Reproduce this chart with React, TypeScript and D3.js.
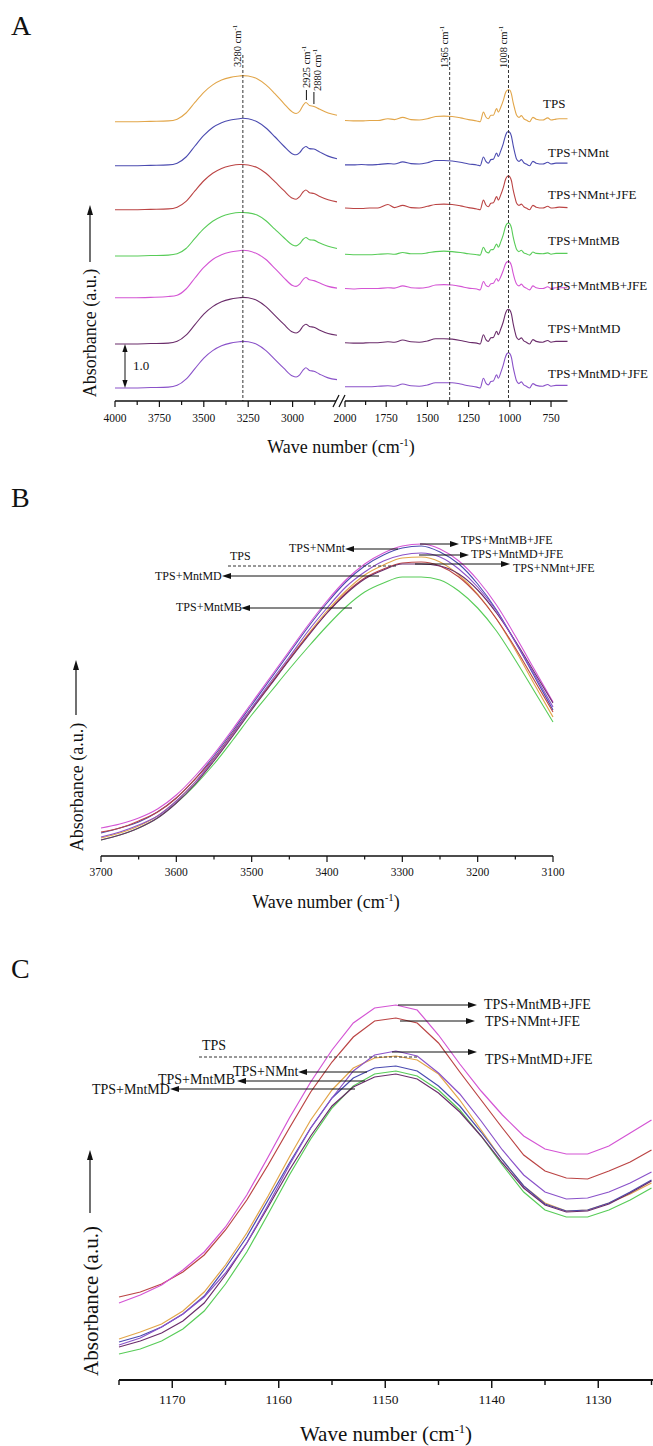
import React from "react";
import * as d3 from "d3";

// ---------- shared ----------
const SERIES = ["TPS", "TPS+NMnt", "TPS+NMnt+JFE", "TPS+MntMB", "TPS+MntMB+JFE", "TPS+MntMD", "TPS+MntMD+JFE"];
const COLORS = ["#e2a64a", "#4b4bb0", "#bb4444", "#58cc58", "#d455d4", "#6b2d6b", "#8a52c9"];

// ---------- Panel A data (absorbance, before stacking) ----------
const A_LEFT_WN = [4000, 3900, 3800, 3700, 3650, 3600, 3550, 3500, 3450, 3400, 3350, 3300, 3280, 3250, 3200, 3150, 3100, 3050, 3000, 2980, 2960, 2940, 2925, 2905, 2880, 2850, 2800, 2750];
const aL_TPS = [0, 0, 0.01, 0.02, 0.06, 0.2, 0.44, 0.67, 0.84, 0.95, 1.01, 1.04, 1.05, 1.04, 0.98, 0.84, 0.64, 0.42, 0.22, 0.19, 0.24, 0.38, 0.44, 0.37, 0.35, 0.29, 0.2, 0.15];
const aL_NMnt = [0, 0, 0.01, 0.02, 0.06, 0.2, 0.45, 0.69, 0.87, 0.98, 1.04, 1.07, 1.08, 1.07, 1.0, 0.86, 0.66, 0.45, 0.27, 0.25, 0.3, 0.4, 0.44, 0.39, 0.38, 0.32, 0.22, 0.16];
const aL_NMntJFE = [0, 0, 0.01, 0.02, 0.06, 0.19, 0.43, 0.66, 0.83, 0.94, 1.0, 1.03, 1.03, 1.02, 0.96, 0.83, 0.64, 0.44, 0.26, 0.24, 0.3, 0.41, 0.45, 0.39, 0.37, 0.31, 0.23, 0.18];
const aL_MntMB = [0, 0, 0.01, 0.02, 0.05, 0.17, 0.4, 0.62, 0.79, 0.9, 0.96, 0.99, 0.99, 0.98, 0.93, 0.8, 0.61, 0.42, 0.25, 0.23, 0.28, 0.38, 0.42, 0.37, 0.36, 0.3, 0.22, 0.17];
const aL_MntMBJFE = [0, 0, 0.01, 0.03, 0.06, 0.2, 0.45, 0.69, 0.87, 0.98, 1.04, 1.07, 1.08, 1.07, 1.0, 0.87, 0.67, 0.46, 0.28, 0.26, 0.31, 0.42, 0.46, 0.41, 0.39, 0.34, 0.26, 0.22];
const aL_MntMD = [0, 0, 0.01, 0.02, 0.06, 0.2, 0.44, 0.68, 0.85, 0.96, 1.02, 1.05, 1.06, 1.05, 0.99, 0.85, 0.65, 0.45, 0.27, 0.25, 0.3, 0.41, 0.45, 0.4, 0.38, 0.32, 0.24, 0.2];
const aL_MntMDJFE = [0, 0, 0.01, 0.02, 0.06, 0.2, 0.44, 0.68, 0.85, 0.96, 1.02, 1.05, 1.06, 1.05, 0.99, 0.85, 0.65, 0.45, 0.27, 0.25, 0.3, 0.41, 0.46, 0.4, 0.38, 0.32, 0.23, 0.19];

const A_RIGHT_WN = [2000, 1950, 1900, 1850, 1800, 1740, 1700, 1650, 1600, 1550, 1500, 1450, 1400, 1350, 1300, 1250, 1200, 1180, 1160, 1145, 1130, 1115, 1100, 1080, 1070, 1055, 1040, 1025, 1015, 1008, 1000, 990, 980, 970, 960, 945, 930, 915, 900, 880, 860, 840, 800, 770, 750, 720, 700, 650];
const aR_TPS = [0.03, 0.02, 0.02, 0.03, 0.03, 0.07, 0.05, 0.1, 0.05, 0.04, 0.07, 0.12, 0.13, 0.12, 0.09, 0.05, 0.02, 0.0, 0.22, 0.11, 0.07, 0.15, 0.15, 0.3, 0.22, 0.33, 0.48, 0.67, 0.72, 0.73, 0.72, 0.63, 0.44, 0.29, 0.16, 0.1, 0.14, 0.07, 0.04, 0.0, 0.1, 0.06, 0.04, 0.09, 0.04, 0.06, 0.07, 0.07];
const aR_NMnt = [0.02, 0.02, 0.03, 0.02, 0.03, 0.05, 0.04, 0.09, 0.05, 0.04, 0.07, 0.12, 0.12, 0.11, 0.08, 0.04, 0.02, 0.0, 0.2, 0.1, 0.06, 0.14, 0.15, 0.29, 0.21, 0.34, 0.5, 0.7, 0.77, 0.78, 0.76, 0.67, 0.47, 0.3, 0.16, 0.1, 0.14, 0.07, 0.04, 0.0, 0.1, 0.06, 0.04, 0.08, 0.04, 0.06, 0.06, 0.06];
const aR_NMntJFE = [0.04, 0.03, 0.03, 0.04, 0.04, 0.12, 0.05, 0.1, 0.05, 0.04, 0.08, 0.12, 0.13, 0.12, 0.09, 0.05, 0.02, 0.0, 0.22, 0.11, 0.07, 0.15, 0.16, 0.3, 0.22, 0.34, 0.5, 0.7, 0.76, 0.77, 0.75, 0.66, 0.46, 0.3, 0.16, 0.1, 0.13, 0.07, 0.04, 0.0, 0.1, 0.06, 0.04, 0.08, 0.04, 0.05, 0.06, 0.05];
const aR_MntMB = [0.04, 0.03, 0.03, 0.03, 0.04, 0.05, 0.04, 0.08, 0.05, 0.05, 0.07, 0.1, 0.11, 0.1, 0.08, 0.05, 0.03, 0.02, 0.2, 0.1, 0.07, 0.14, 0.15, 0.27, 0.2, 0.32, 0.48, 0.68, 0.74, 0.75, 0.73, 0.64, 0.44, 0.28, 0.16, 0.1, 0.13, 0.07, 0.05, 0.02, 0.09, 0.06, 0.05, 0.07, 0.04, 0.06, 0.06, 0.06];
const aR_MntMBJFE = [0.21, 0.2, 0.21, 0.21, 0.21, 0.23, 0.22, 0.27, 0.23, 0.22, 0.24, 0.29, 0.3, 0.29, 0.26, 0.22, 0.2, 0.18, 0.37, 0.28, 0.25, 0.32, 0.33, 0.44, 0.38, 0.48, 0.62, 0.78, 0.82, 0.83, 0.81, 0.73, 0.56, 0.42, 0.32, 0.27, 0.31, 0.25, 0.22, 0.18, 0.27, 0.23, 0.21, 0.25, 0.21, 0.23, 0.23, 0.23];
const aR_MntMD = [0.03, 0.02, 0.02, 0.03, 0.03, 0.05, 0.04, 0.09, 0.05, 0.04, 0.07, 0.12, 0.12, 0.11, 0.08, 0.04, 0.02, 0.0, 0.21, 0.1, 0.06, 0.14, 0.15, 0.29, 0.21, 0.34, 0.5, 0.71, 0.78, 0.79, 0.77, 0.68, 0.47, 0.3, 0.16, 0.1, 0.14, 0.07, 0.04, 0.0, 0.1, 0.06, 0.04, 0.08, 0.04, 0.06, 0.06, 0.06];
const aR_MntMDJFE = [0.03, 0.03, 0.03, 0.03, 0.04, 0.05, 0.04, 0.09, 0.05, 0.04, 0.07, 0.12, 0.12, 0.12, 0.09, 0.05, 0.02, 0.0, 0.22, 0.11, 0.07, 0.15, 0.16, 0.3, 0.22, 0.35, 0.52, 0.72, 0.79, 0.8, 0.78, 0.69, 0.48, 0.31, 0.17, 0.1, 0.14, 0.07, 0.04, 0.0, 0.1, 0.06, 0.04, 0.08, 0.04, 0.06, 0.06, 0.06];
const A_STACK_OFFSETS = [6.05, 5.05, 4.05, 3.0, 2.05, 1.0, 0];
const A_LEFT_VALUES = [aL_TPS, aL_NMnt, aL_NMntJFE, aL_MntMB, aL_MntMBJFE, aL_MntMD, aL_MntMDJFE];
const A_RIGHT_VALUES = [aR_TPS, aR_NMnt, aR_NMntJFE, aR_MntMB, aR_MntMBJFE, aR_MntMD, aR_MntMDJFE];
const A_LEFT_MAJOR = [4000, 3750, 3500, 3250, 3000];
const A_LEFT_MINOR = [3875, 3625, 3375, 3125, 2875];
const A_RIGHT_MAJOR = [2000, 1750, 1500, 1250, 1000, 750];
const A_RIGHT_MINOR = [1875, 1625, 1375, 1125, 875];
const A_MARKERS = [3280, 1365, 1008];

// ---------- Panel B data ----------
const B_WN = [3700, 3675, 3650, 3625, 3600, 3575, 3550, 3525, 3500, 3475, 3450, 3425, 3400, 3375, 3350, 3325, 3300, 3275, 3250, 3225, 3200, 3175, 3150, 3125, 3100];
const b_TPS = [0.18, 0.23, 0.30, 0.40, 0.55, 0.74, 0.96, 1.21, 1.47, 1.72, 1.97, 2.22, 2.45, 2.65, 2.81, 2.91, 2.98, 2.99, 2.94, 2.81, 2.62, 2.37, 2.06, 1.72, 1.39];
const b_NMnt = [0.23, 0.28, 0.34, 0.44, 0.58, 0.77, 1.00, 1.25, 1.51, 1.77, 2.03, 2.29, 2.53, 2.74, 2.90, 3.01, 3.08, 3.10, 3.04, 2.92, 2.72, 2.46, 2.14, 1.80, 1.46];
const b_NMntJFE = [0.24, 0.28, 0.35, 0.44, 0.58, 0.77, 0.98, 1.23, 1.48, 1.72, 1.97, 2.21, 2.43, 2.63, 2.78, 2.87, 2.93, 2.94, 2.90, 2.79, 2.61, 2.37, 2.08, 1.76, 1.44];
const b_MntMB = [0.16, 0.21, 0.28, 0.38, 0.53, 0.71, 0.92, 1.16, 1.41, 1.64, 1.87, 2.09, 2.30, 2.49, 2.64, 2.73, 2.79, 2.79, 2.76, 2.65, 2.48, 2.25, 1.96, 1.65, 1.34];
const b_MntMBJFE = [0.28, 0.32, 0.38, 0.47, 0.61, 0.80, 1.02, 1.27, 1.53, 1.79, 2.05, 2.31, 2.55, 2.76, 2.92, 3.03, 3.10, 3.12, 3.07, 2.95, 2.76, 2.51, 2.20, 1.87, 1.54];
const b_MntMD = [0.16, 0.21, 0.28, 0.38, 0.53, 0.72, 0.95, 1.20, 1.46, 1.71, 1.96, 2.20, 2.43, 2.62, 2.77, 2.86, 2.92, 2.92, 2.90, 2.82, 2.66, 2.43, 2.15, 1.84, 1.53];
const b_MntMDJFE = [0.19, 0.24, 0.31, 0.40, 0.55, 0.74, 0.97, 1.22, 1.48, 1.74, 1.99, 2.25, 2.48, 2.69, 2.84, 2.95, 3.01, 3.03, 2.99, 2.87, 2.69, 2.45, 2.14, 1.82, 1.49];
const B_VALUES = [b_TPS, b_NMnt, b_NMntJFE, b_MntMB, b_MntMBJFE, b_MntMD, b_MntMDJFE];
const B_MAJOR = [3700, 3600, 3500, 3400, 3300, 3200, 3100];
const B_MINOR = [3650, 3550, 3450, 3350, 3250, 3150];

// ---------- Panel C data ----------
const C_WN = [1175, 1173, 1171, 1169, 1167, 1165, 1163, 1161, 1159, 1157, 1155, 1153, 1151, 1149, 1147, 1145, 1143, 1141, 1139, 1137, 1135, 1133, 1131, 1129, 1127, 1125];
const c_TPS = [0.41, 0.48, 0.56, 0.69, 0.88, 1.15, 1.47, 1.84, 2.23, 2.6, 2.9, 3.12, 3.22, 3.24, 3.2, 3.06, 2.8, 2.5, 2.2, 1.94, 1.77, 1.69, 1.7, 1.77, 1.86, 1.97];
const c_NMnt = [0.38, 0.44, 0.53, 0.66, 0.84, 1.12, 1.43, 1.8, 2.17, 2.52, 2.82, 3.02, 3.12, 3.14, 3.09, 2.94, 2.74, 2.48, 2.2, 1.94, 1.76, 1.69, 1.7, 1.77, 1.88, 2.0];
const c_NMntJFE = [0.83, 0.88, 0.96, 1.08, 1.25, 1.5, 1.8, 2.15, 2.52, 2.88, 3.18, 3.43, 3.59, 3.62, 3.57, 3.37, 3.08, 2.8, 2.52, 2.25, 2.09, 2.02, 2.01, 2.09, 2.18, 2.3];
const c_MntMB = [0.26, 0.31, 0.39, 0.51, 0.69, 0.96, 1.28, 1.66, 2.05, 2.41, 2.72, 2.94, 3.06, 3.09, 3.04, 2.9, 2.7, 2.44, 2.15, 1.88, 1.7, 1.63, 1.63, 1.7, 1.8, 1.92];
const c_MntMBJFE = [0.77, 0.85, 0.95, 1.1, 1.28, 1.53, 1.85, 2.23, 2.62, 2.98, 3.3, 3.57, 3.72, 3.75, 3.7, 3.45, 3.16, 2.89, 2.65, 2.44, 2.31, 2.26, 2.26, 2.34, 2.47, 2.6];
const c_MntMD = [0.33, 0.39, 0.47, 0.59, 0.77, 1.05, 1.37, 1.73, 2.1, 2.44, 2.74, 2.93, 3.03, 3.06, 3.01, 2.87, 2.68, 2.44, 2.17, 1.92, 1.75, 1.68, 1.69, 1.76, 1.87, 1.99];
const c_MntMDJFE = [0.35, 0.42, 0.53, 0.66, 0.83, 1.07, 1.37, 1.75, 2.15, 2.52, 2.82, 3.09, 3.25, 3.29, 3.24, 3.07, 2.86, 2.59, 2.3, 2.05, 1.88, 1.81, 1.82, 1.88, 1.97, 2.08];
const C_VALUES = [c_TPS, c_NMnt, c_NMntJFE, c_MntMB, c_MntMBJFE, c_MntMD, c_MntMDJFE];
const C_MAJOR = [1170, 1160, 1150, 1140, 1130];
const C_MINOR = [1175, 1165, 1155, 1145, 1135, 1125];

const FONT = "'Liberation Serif','Times New Roman',Times,serif";

function arrowParts(x1: number, y1: number, x2: number, y2: number, len = 9, half = 3) {
  const a = Math.atan2(y2 - y1, x2 - x1);
  const bx = x2 - len * Math.cos(a);
  const by = y2 - len * Math.sin(a);
  const px = -Math.sin(a) * half;
  const py = Math.cos(a) * half;
  return { bx, by, head: `M${x2},${y2}L${bx + px},${by + py}L${bx - px},${by - py}Z` };
}

function Arrow({ x1, y1, x2, y2, len = 9, half = 3, sw = 1 }: any) {
  const p = arrowParts(x1, y1, x2, y2, len, half);
  return (
    <g>
      <line x1={x1} y1={y1} x2={p.bx} y2={p.by} stroke="#111" strokeWidth={sw} />
      <path d={p.head} fill="#111" />
    </g>
  );
}

function WaveTitle({ x, y, size }: any) {
  return (
    <text x={x} y={y} fontSize={size} textAnchor="middle" fontFamily={FONT} fill="#111">
      Wave number (cm<tspan dy={-size * 0.4} fontSize={size * 0.6}>-1</tspan>
      <tspan dy={size * 0.4}>)</tspan>
    </text>
  );
}

function AbsLabel({ x, y, size, ax, ay1, ay2 }: any) {
  return (
    <g>
      <text transform={`translate(${x},${y}) rotate(-90)`} fontSize={size} textAnchor="middle" fontFamily={FONT} fill="#111">
        Absorbance (a.u.)
      </text>
      <Arrow x1={ax} y1={ay1} x2={ax} y2={ay2} len={10} half={3} sw={1.2} />
    </g>
  );
}

function RotLabel({ x, y, num }: any) {
  return (
    <text transform={`translate(${x},${y}) rotate(-90)`} fontSize={10.5} fontFamily={FONT} fill="#111">
      {num} cm<tspan dy={-4} fontSize={7}>-1</tspan>
    </text>
  );
}

function XAxis({ scale, y, major, minor, x0, x1, majorLen, minorLen, fontSize, labelDy, sw }: any) {
  return (
    <g>
      <line x1={x0} x2={x1} y1={y} y2={y} stroke="#111" strokeWidth={sw} />
      {major.map((t: number) => (
        <g key={"M" + t}>
          <line x1={scale(t)} x2={scale(t)} y1={y} y2={y + majorLen} stroke="#111" strokeWidth={sw * 0.8} />
          <text x={scale(t)} y={y + labelDy} fontSize={fontSize} textAnchor="middle" fontFamily={FONT} fill="#111">
            {t}
          </text>
        </g>
      ))}
      {minor.map((t: number) => (
        <line key={"m" + t} x1={scale(t)} x2={scale(t)} y1={y} y2={y + minorLen} stroke="#111" strokeWidth={sw * 0.8} />
      ))}
    </g>
  );
}

function PanelA() {
  const xL = d3.scaleLinear().domain([4000, 2750]).range([115, 337]);
  const xR = d3.scaleLinear().domain([2000, 650]).range([345, 567.5]);
  const y = d3.scaleLinear().domain([0, 1]).range([388, 344]);
  const labelY = [107.5, 156.5, 199, 244.5, 289.5, 332.5, 377.5];
  const axisY = 401;
  return (
    <g>
      <text x={11} y={35} fontSize={28} fontFamily={FONT} fill="#111">A</text>
      {SERIES.map((s, i) => {
        const off = A_STACK_OFFSETS[i];
        const lineL = d3.line<number>().x((_, k) => xL(A_LEFT_WN[k])).y((v) => y(v + off)).curve(d3.curveMonotoneX);
        const lineR = d3.line<number>().x((_, k) => xR(A_RIGHT_WN[k])).y((v) => y(v + off)).curve(d3.curveMonotoneX);
        return (
          <g key={s}>
            <path d={lineL(A_LEFT_VALUES[i]) || ""} fill="none" stroke={COLORS[i]} strokeWidth={1.1} />
            <path d={lineR(A_RIGHT_VALUES[i]) || ""} fill="none" stroke={COLORS[i]} strokeWidth={1.1} />
            <text x={i === 0 ? 543 : 548} y={labelY[i]} fontSize={13} fontFamily={FONT} fill="#111">{s}</text>
          </g>
        );
      })}
      {A_MARKERS.map((m, i) => {
        const x = i === 0 ? xL(m) : xR(m);
        return <line key={m} x1={x} x2={x} y1={i === 1 ? 57 : 55} y2={axisY} stroke="#333" strokeWidth={1} strokeDasharray="3,2" />;
      })}
      <RotLabel x={xL(3280) - 1.5} y={67} num="3280" />
      <RotLabel x={xR(1365) - 1.5} y={68} num="1365" />
      <RotLabel x={xR(1008) - 1.5} y={68} num="1008" />
      <RotLabel x={310} y={88} num="2925" />
      <RotLabel x={321} y={91} num="2880" />
      <line x1={xL(2925) + 0.5} x2={xL(2925) + 0.5} y1={90} y2={100} stroke="#111" strokeWidth={1} />
      <line x1={xL(2880)} x2={xL(2880)} y1={92} y2={104} stroke="#111" strokeWidth={1} />
      {/* 1.0 scale bar */}
      <Arrow x1={125} y1={365} x2={125} y2={344} len={8} half={2.6} />
      <Arrow x1={125} y1={365} x2={125} y2={388} len={8} half={2.6} />
      <text x={133} y={370} fontSize={13} fontFamily={FONT} fill="#111">1.0</text>
      <XAxis scale={xL} y={axisY} major={A_LEFT_MAJOR} minor={A_LEFT_MINOR} x0={115} x1={336} majorLen={6} minorLen={4} fontSize={11.5} labelDy={21} sw={1.5} />
      <XAxis scale={xR} y={axisY} major={A_RIGHT_MAJOR} minor={A_RIGHT_MINOR} x0={345} x1={567.5} majorLen={6} minorLen={4} fontSize={11.5} labelDy={21} sw={1.5} />
      <line x1={333} y1={407} x2={339} y2={395} stroke="#111" strokeWidth={1.2} />
      <line x1={339} y1={407} x2={345} y2={395} stroke="#111" strokeWidth={1.2} />
      <WaveTitle x={341} y={453} size={18} />
      <AbsLabel x={96} y={333} size={18} ax={90} ay1={262} ay2={205} />
    </g>
  );
}

function PanelB() {
  const x = d3.scaleLinear().domain([3700, 3100]).range([101, 553]);
  const y = d3.scaleLinear().domain([0, 1]).range([856, 756]);
  return (
    <g>
      <text x={11} y={507} fontSize={28} fontFamily={FONT} fill="#111">B</text>
      {SERIES.map((s, i) => {
        const line = d3.line<number>().x((_, k) => x(B_WN[k])).y((v) => y(v)).curve(d3.curveMonotoneX);
        return <path key={s} d={line(B_VALUES[i]) || ""} fill="none" stroke={COLORS[i]} strokeWidth={1.1} />;
      })}
      <XAxis scale={x} y={856} major={B_MAJOR} minor={B_MINOR} x0={101} x1={553} majorLen={6} minorLen={3.5} fontSize={11.5} labelDy={20} sw={1.5} />
      <WaveTitle x={326} y={908} size={18} />
      <AbsLabel x={83} y={787} size={18} ax={76} ay1={715} ay2={660} />
      <g fontFamily={FONT} fontSize={12} fill="#111">
        <text x={461} y={544}>TPS+MntMB+JFE</text>
        <text x={289} y={552}>TPS+NMnt</text>
        <text x={471} y={558}>TPS+MntMD+JFE</text>
        <text x={230} y={560}>TPS</text>
        <text x={513} y={572}>TPS+NMnt+JFE</text>
        <text x={155} y={580}>TPS+MntMD</text>
        <text x={176} y={611}>TPS+MntMB</text>
      </g>
      <Arrow x1={420} y1={544} x2={459} y2={544} />
      <Arrow x1={398} y1={549} x2={345} y2={549} />
      <Arrow x1={419} y1={555} x2={469} y2={555} />
      <line x1={228} x2={398} y1={566} y2={566} stroke="#333" strokeWidth={1} strokeDasharray="3,2" />
      <Arrow x1={415} y1={564} x2={510} y2={564} />
      <Arrow x1={379} y1={576} x2={222} y2={576} />
      <Arrow x1={352} y1={608} x2={241} y2={608} />
    </g>
  );
}

function PanelC() {
  const x = d3.scaleLinear().domain([1175, 1125]).range([119, 651.5]);
  const y = d3.scaleLinear().domain([0, 1]).range([1380, 1280]);
  return (
    <g>
      <text x={11} y={978} fontSize={28} fontFamily={FONT} fill="#111">C</text>
      {SERIES.map((s, i) => {
        const line = d3.line<number>().x((_, k) => x(C_WN[k])).y((v) => y(v)).curve(d3.curveLinear);
        return <path key={s} d={line(C_VALUES[i]) || ""} fill="none" stroke={COLORS[i]} strokeWidth={1.2} />;
      })}
      <XAxis scale={x} y={1380} major={C_MAJOR} minor={C_MINOR} x0={119} x1={653} majorLen={8} minorLen={5} fontSize={13.5} labelDy={24} sw={1.8} />
      <WaveTitle x={386} y={1441} size={21} />
      <AbsLabel x={98} y={1301} size={21} ax={90} ay1={1213} ay2={1150} />
      <g fontFamily={FONT} fontSize={14} fill="#111">
        <text x={484} y={1009}>TPS+MntMB+JFE</text>
        <text x={485} y={1026}>TPS+NMnt+JFE</text>
        <text x={485} y={1064}>TPS+MntMD+JFE</text>
        <text x={202} y={1050}>TPS</text>
        <text x={233} y={1076}>TPS+NMnt</text>
        <text x={158} y={1084}>TPS+MntMB</text>
        <text x={92} y={1094}>TPS+MntMD</text>
      </g>
      <Arrow x1={398} y1={1005} x2={477} y2={1005} />
      <Arrow x1={400} y1={1021} x2={475} y2={1021} />
      <Arrow x1={392} y1={1052} x2={477} y2={1052} />
      <line x1={199} x2={418} y1={1057} y2={1057} stroke="#333" strokeWidth={1} strokeDasharray="3,2" />
      <Arrow x1={367} y1={1072} x2={298} y2={1072} />
      <Arrow x1={365} y1={1081} x2={237} y2={1081} />
      <Arrow x1={355} y1={1089} x2={170} y2={1089} />
    </g>
  );
}

export default function App() {
  return (
    <div>
      <style>{`body{margin:0;background:#fff}`}</style>
      <svg width={653} height={1446} viewBox="0 0 653 1446" style={{ display: "block", background: "#fff" }}>
        <PanelA />
        <PanelB />
        <PanelC />
      </svg>
    </div>
  );
}
